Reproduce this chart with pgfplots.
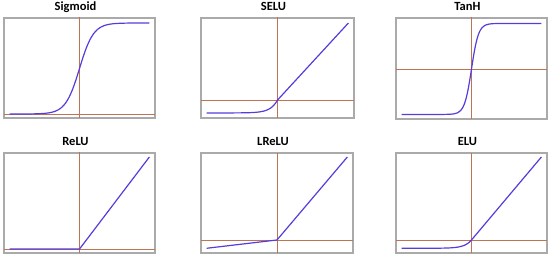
\documentclass[border=0pt]{standalone}
\usepackage{pgfplots}
\pgfplotsset{compat=1.18}
\usepackage{fontspec}
\setmainfont{Carlito}
\definecolor{curve}{RGB}{85,60,220}
\definecolor{axred}{RGB}{190,115,85}
\definecolor{frame}{RGB}{170,170,170}
\pgfplotsset{
  panel/.style={
    scale only axis, width=151pt, height=100pt, anchor=south west,
    xtick=\empty, ytick=\empty,
    axis line style={frame, line width=1.3pt},
    xmin=-10.8, xmax=10.8,
    clip=true,
    title style={font=\bfseries\fontsize{12.5}{12.5}\selectfont, anchor=base, inner sep=0pt, yshift=1.5pt, xshift=-4pt},
  },
  ax/.style={axred, line width=0.8pt, forget plot},
  fn/.style={curve, line width=1.2pt, forget plot},
}
\begin{document}
\begin{tikzpicture}
\useasboundingbox (0,0) rectangle (550pt,-259pt);
% Sigmoid
\begin{axis}[panel, at={(4pt,-118pt)}, ymin=-0.044, ymax=1.055, title={Sigmoid}]
\addplot[ax] coordinates {(-10.8,0) (10.8,0)};
\addplot[ax] coordinates {(0,-0.1) (0,1.1)};
\addplot[fn, smooth] coordinates {
(-10,0.0000454) (-9,0.000123) (-8,0.000335) (-7,0.000911) (-6,0.00247) (-5,0.00669)
(-4.5,0.01099) (-4,0.01799) (-3.5,0.02931) (-3,0.04743) (-2.5,0.07586) (-2,0.1192)
(-1.5,0.1824) (-1,0.2689) (-0.5,0.3775) (0,0.5) (0.5,0.6225) (1,0.7311) (1.5,0.8176)
(2,0.8808) (2.5,0.9241) (3,0.9526) (3.5,0.9707) (4,0.9820) (4.5,0.9890) (5,0.9933)
(6,0.9975) (7,0.9991) (8,0.9997) (9,0.9999) (10,1.0000)};
\end{axis}
% SELU
\begin{axis}[panel, at={(201pt,-118pt)}, width=153pt, ymin=-2.45, ymax=11.2, title={SELU}]
\addplot[ax] coordinates {(-10.8,0) (10.8,0)};
\addplot[ax] coordinates {(0,-3) (0,12)};
\addplot[fn] coordinates {
(-10,-1.7580) (-8,-1.7575) (-6,-1.7537) (-5,-1.7463) (-4,-1.7259) (-3.5,-1.7047)
(-3,-1.6706) (-2.5,-1.6138) (-2,-1.5202) (-1.75,-1.4603) (-1.5,-1.3658) (-1.25,-1.2545)
(-1,-1.1113) (-0.75,-0.9276) (-0.5,-0.6918) (-0.25,-0.3889) (0,0) (10,10.507)};
\end{axis}
% TanH
\begin{axis}[panel, at={(396pt,-119pt)}, height=101pt, ymin=-1.1, ymax=1.12, title={TanH}]
\addplot[ax] coordinates {(-10.8,0) (10.8,0)};
\addplot[ax] coordinates {(0,-2) (0,2)};
\addplot[fn, smooth] coordinates {
(-10,-1) (-5,-0.9999) (-4,-0.9993) (-3,-0.9951) (-2.5,-0.9866) (-2,-0.9640)
(-1.5,-0.9051) (-1.25,-0.8483) (-1,-0.7616) (-0.75,-0.6351) (-0.5,-0.4621) (-0.25,-0.2449)
(0,0) (0.25,0.2449) (0.5,0.4621) (0.75,0.6351) (1,0.7616) (1.25,0.8483) (1.5,0.9051)
(2,0.9640) (2.5,0.9866) (3,0.9951) (4,0.9993) (5,0.9999) (10,1)};
\end{axis}
% ReLU
\begin{axis}[panel, at={(4pt,-253pt)}, ymin=-0.43, ymax=10.43, title={ReLU}]
\addplot[ax] coordinates {(-10.8,0) (10.8,0)};
\addplot[ax] coordinates {(0,-1) (0,11)};
\addplot[fn] coordinates {(-10,0) (0,0) (10,10)};
\end{axis}
% LReLU
\begin{axis}[panel, at={(201pt,-253pt)}, width=152pt, ymin=-1.57, ymax=10.48, title={LReLU}]
\addplot[ax] coordinates {(-10.8,0) (10.8,0)};
\addplot[ax] coordinates {(0,-2) (0,11)};
\addplot[fn] coordinates {(-10,-1) (0,0) (10,10)};
\end{axis}
% ELU
\begin{axis}[panel, at={(396pt,-253pt)}, ymin=-1.57, ymax=10.48, title={ELU}]
\addplot[ax] coordinates {(-10.8,0) (10.8,0)};
\addplot[ax] coordinates {(0,-2) (0,11)};
\addplot[fn] coordinates {
(-10,-0.99995) (-8,-0.99966) (-6,-0.99752) (-5,-0.99326) (-4,-0.98168) (-3.5,-0.96980)
(-3,-0.95021) (-2.5,-0.91792) (-2,-0.86466) (-1.75,-0.82623) (-1.5,-0.77687) (-1.25,-0.71350)
(-1,-0.63212) (-0.75,-0.52763) (-0.5,-0.39347) (-0.25,-0.22120) (0,0) (10,10)};
\end{axis}
\end{tikzpicture}
\end{document}
